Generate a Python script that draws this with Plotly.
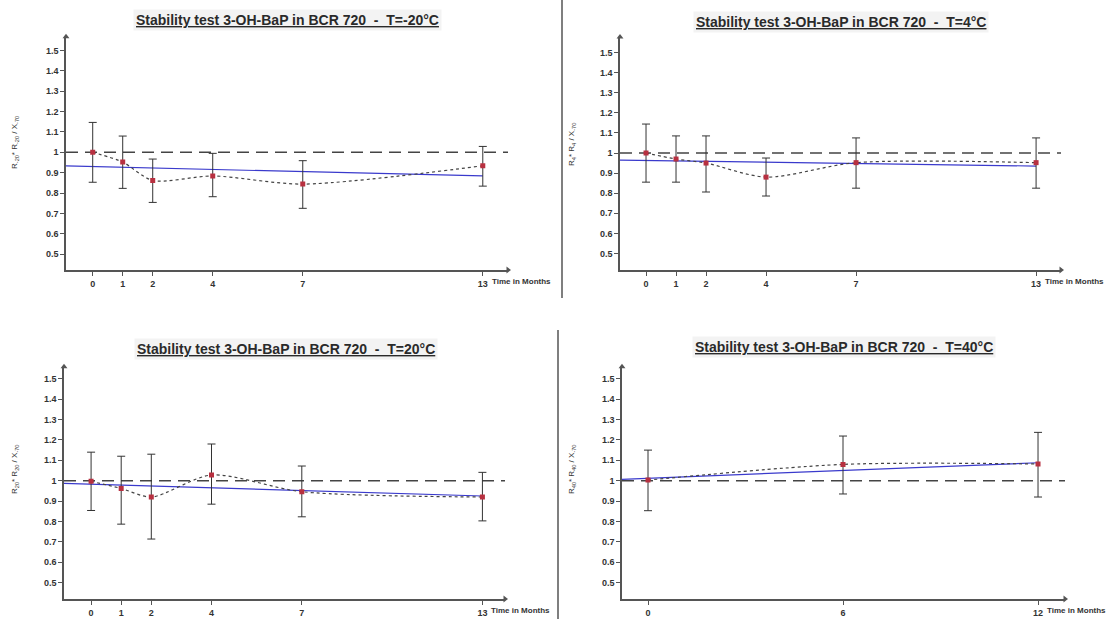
import plotly.graph_objects as go

W, H = 1106, 619

# ---------------- data ----------------
months_a = [0, 1, 2, 4, 7, 13]
months_b = [0, 6, 12]
xtick_a = ["0", "1", "2", "4", "7", "13"]
xtick_b = ["0", "6", "12"]
ytick_vals = [0.5, 0.6, 0.7, 0.8, 0.9, 1.0, 1.1, 1.2, 1.3, 1.4, 1.5]
ytick_text = ["0.5", "0.6", "0.7", "0.8", "0.9", "1", "1.1", "1.2", "1.3", "1.4", "1.5"]

titles = [
    "Stability test 3-OH-BaP in BCR 720  -  T=-20°C",
    "Stability test 3-OH-BaP in BCR 720  -  T=4°C",
    "Stability test 3-OH-BaP in BCR 720  -  T=20°C",
    "Stability test 3-OH-BaP in BCR 720  -  T=40°C",
]
ytitles = [
    "R<sub>-20</sub>* R<sub>-20</sub> / X<sub>-70</sub>",
    "R<sub>4</sub>* R<sub>4</sub> / X<sub>-70</sub>",
    "R<sub>20</sub>* R<sub>20</sub> / X<sub>-70</sub>",
    "R<sub>40</sub>* R<sub>40</sub> / X<sub>-70</sub>",
]
xlabel = "Time in Months"

# T = -20 °C
r_m20 = [1.000, 0.952, 0.862, 0.884, 0.844, 0.934]
hi_m20 = [1.147, 1.080, 0.967, 0.995, 0.959, 1.029]
lo_m20 = [0.853, 0.823, 0.754, 0.782, 0.725, 0.834]
trend_m20 = [0.933, 0.884]

# T = 4 °C
r_4 = [1.000, 0.970, 0.950, 0.880, 0.952, 0.952]
hi_4 = [1.144, 1.085, 1.085, 0.975, 1.075, 1.075]
lo_4 = [0.855, 0.855, 0.806, 0.786, 0.825, 0.825]
trend_4 = [0.965, 0.935]

# T = 20 °C
r_20 = [0.997, 0.962, 0.920, 1.028, 0.946, 0.920]
hi_20 = [1.140, 1.120, 1.130, 1.180, 1.072, 1.041]
lo_20 = [0.854, 0.787, 0.714, 0.885, 0.823, 0.803]
trend_20 = [0.987, 0.925]

# T = 40 °C
r_40 = [1.003, 1.080, 1.082]
hi_40 = [1.150, 1.219, 1.237]
lo_40 = [0.853, 0.935, 0.920]
trend_40 = [1.007, 1.088]

series = [
    (months_a, xtick_a, r_m20, hi_m20, lo_m20, trend_m20),
    (months_a, xtick_a, r_4, hi_4, lo_4, trend_4),
    (months_a, xtick_a, r_20, hi_20, lo_20, trend_20),
    (months_b, xtick_b, r_40, hi_40, lo_40, trend_40),
]

# ---------------- layout (pixel geometry) ----------------
panels = [
    dict(xpx=(66, 508), ypx=(36.7, 270), xr=(-0.89, 13.84), yr=(0.422, 1.568),
         title=(287, 20), ytitle=(15, 143)),
    dict(xpx=(620, 1061), ypx=(37, 270), xr=(-0.867, 13.83), yr=(0.418, 1.577),
         title=(841, 22), ytitle=(572, 145)),
    dict(xpx=(64, 505), ypx=(366.7, 599), xr=(-0.9, 13.75), yr=(0.42, 1.559),
         title=(286, 349), ytitle=(15, 470)),
    dict(xpx=(622, 1065), ypx=(366.7, 599), xr=(-0.8, 12.83), yr=(0.42, 1.559),
         title=(844, 347), ytitle=(572, 470)),
]

AXC = "#555555"
FONT = "Liberation Sans"

fig = go.Figure()
annotations = []
shapes = []
layout_axes = {}

for i, (p, s) in enumerate(zip(panels, series)):
    n = i + 1
    xa = "x" if n == 1 else f"x{n}"
    ya = "y" if n == 1 else f"y{n}"
    months, xt, r, hi, lo, trend = s
    x0, x1 = p["xr"]
    y0, y1 = p["yr"]

    # reference line at 1 (long dashes)
    fig.add_trace(go.Scatter(x=[x0, x1], y=[1, 1], mode="lines",
                             line=dict(color="#444444", width=1.5, dash="12px,7px"),
                             xaxis=xa, yaxis=ya, showlegend=False, hoverinfo="skip"))
    # regression / trend line
    fig.add_trace(go.Scatter(x=[x0, months[-1]], y=trend, mode="lines",
                             line=dict(color="#3a3acc", width=1.2),
                             xaxis=xa, yaxis=ya, showlegend=False, hoverinfo="skip"))
    # short-dashed connecting curve
    fig.add_trace(go.Scatter(x=months, y=r, mode="lines",
                             line=dict(color="#444444", width=1.2, dash="3px,3px",
                                       shape="spline", smoothing=0.8),
                             xaxis=xa, yaxis=ya, showlegend=False, hoverinfo="skip"))
    # points with error bars
    fig.add_trace(go.Scatter(
        x=months, y=r, mode="markers",
        marker=dict(symbol="square", size=5, color="#b83040"),
        error_y=dict(type="data", symmetric=False,
                     array=[h - v for h, v in zip(hi, r)],
                     arrayminus=[v - l for v, l in zip(r, lo)],
                     color="#333333", thickness=1, width=4),
        xaxis=xa, yaxis=ya, showlegend=False))
    # axis arrow heads (at the ends of the axis ranges)
    fig.add_trace(go.Scatter(
        x=[x1, x0], y=[y0, y1], mode="markers", cliponaxis=False,
        marker=dict(symbol=["triangle-right", "triangle-up"], size=6, color=AXC),
        xaxis=xa, yaxis=ya, showlegend=False, hoverinfo="skip"))

    layout_axes["xaxis" if n == 1 else f"xaxis{n}"] = dict(
        domain=[p["xpx"][0] / W, p["xpx"][1] / W], range=[x0, x1],
        anchor=ya, showline=True, linecolor=AXC, linewidth=1.5,
        showgrid=False, zeroline=False, ticks="outside", ticklen=4,
        tickcolor=AXC, tickvals=months, ticktext=xt,
        tickfont=dict(family=FONT, size=9, color="#333333", weight="bold"))
    layout_axes["yaxis" if n == 1 else f"yaxis{n}"] = dict(
        domain=[1 - p["ypx"][1] / H, 1 - p["ypx"][0] / H], range=[y0, y1],
        anchor=xa, showline=True, linecolor=AXC, linewidth=1.5,
        showgrid=False, zeroline=False, ticks="outside", ticklen=4,
        tickcolor=AXC, tickvals=ytick_vals, ticktext=ytick_text,
        tickfont=dict(family=FONT, size=9, color="#333333", weight="bold"))

    # title
    tx, ty = p["title"]
    annotations.append(dict(
        text="<u>" + titles[i].replace("  ", "\u00a0\u00a0") + "</u>",
        xref="paper", yref="paper", x=tx / W, y=1 - ty / H,
        xanchor="center", yanchor="middle", showarrow=False,
        bgcolor="#f3f3f3", borderpad=2,
        font=dict(family=FONT, size=14, color="#2a2a2a", weight="bold")))
    # y-axis title
    yx, yy = p["ytitle"]
    annotations.append(dict(
        text=ytitles[i], xref="paper", yref="paper", x=yx / W, y=1 - yy / H,
        xanchor="center", yanchor="middle", showarrow=False, textangle=-90,
        font=dict(family=FONT, size=8, color="#333333")))
    # x label at end of axis, right after the last tick label
    annotations.append(dict(
        text=xlabel, xref=xa, yref=ya, x=months[-1], y=y0,
        xanchor="left", yanchor="top", xshift=7, yshift=-5, showarrow=False,
        font=dict(family=FONT, size=8, color="#333333", weight="bold")))

# panel separators
shapes.append(dict(type="line", xref="paper", yref="paper",
                   x0=562 / W, x1=562 / W, y0=1, y1=1 - 298 / H,
                   line=dict(color="#555555", width=1.5)))
shapes.append(dict(type="line", xref="paper", yref="paper",
                   x0=558 / W, x1=558 / W, y0=1 - 330 / H, y1=0,
                   line=dict(color="#555555", width=1.5)))

fig.update_layout(
    width=W, height=H, margin=dict(l=0, r=0, t=0, b=0),
    paper_bgcolor="white", plot_bgcolor="white",
    annotations=annotations, shapes=shapes, showlegend=False,
    **layout_axes)

fig.write_html("out.html")
